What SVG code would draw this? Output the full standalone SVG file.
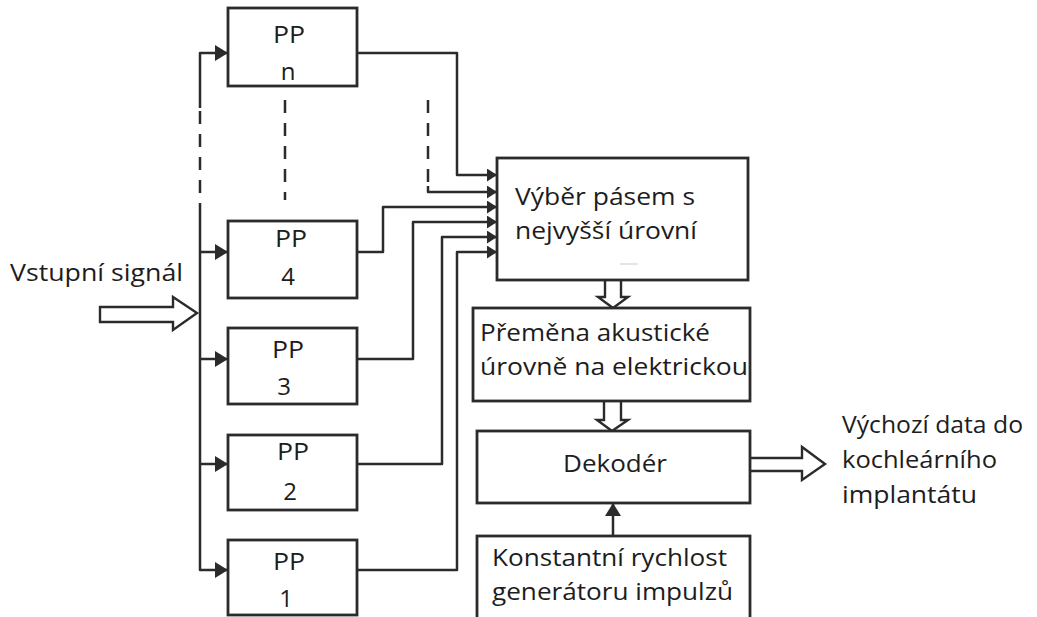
<svg xmlns="http://www.w3.org/2000/svg" width="1037" height="617" viewBox="0 0 1037 617">
  <defs>
    <style>
      .box { fill: #fff; stroke: #2b2b2b; stroke-width: 2.8; }
      .wire { fill: none; stroke: #2b2b2b; stroke-width: 2.5; stroke-linejoin: round; }
      .dash { fill: none; stroke: #2b2b2b; stroke-width: 2.5; stroke-dasharray: 13 10; }
      .hollow { fill: #fff; stroke: #2b2b2b; stroke-width: 2.4; stroke-linejoin: miter; }
      .t { font-family: "Open Sans", "Liberation Sans", sans-serif; font-size: 24px; fill: #1d1d1d; }
      .c { text-anchor: middle; }
    </style>
    <marker id="head" markerUnits="userSpaceOnUse" viewBox="0 0 13 16" refX="13" refY="8" markerWidth="13" markerHeight="16" orient="auto">
      <path d="M0,0 L13,8 L0,16 z" fill="#2b2b2b"/>
    </marker>
    <marker id="tip" markerUnits="userSpaceOnUse" viewBox="0 0 10 13" refX="10" refY="6.5" markerWidth="10" markerHeight="13" orient="auto">
      <path d="M0,0 L10,6.5 L0,13 z" fill="#2b2b2b"/>
    </marker>
  </defs>

  <!-- connectors -->
  <g id="connectors">
    <!-- input bus feeding the band-pass filters -->
    <path class="wire" d="M200,108 V53 H228" marker-end="url(#head)"/>
    <line class="dash" x1="200" y1="111" x2="200" y2="205"/>
    <path class="wire" d="M200,205 V570 H228" marker-end="url(#head)"/>
    <line class="wire" x1="200" y1="252" x2="228" y2="252" marker-end="url(#head)"/>
    <line class="wire" x1="200" y1="359" x2="228" y2="359" marker-end="url(#head)"/>
    <line class="wire" x1="200" y1="464" x2="228" y2="464" marker-end="url(#head)"/>

    <!-- ellipsis between PP n and PP 4 -->
    <line class="dash" x1="285" y1="100" x2="285" y2="200"/>

    <!-- filter outputs into band selection -->
    <path class="wire" d="M357,53 H457 V175 H497" marker-end="url(#tip)"/>
    <line class="dash" x1="428" y1="100" x2="428" y2="186"/>
    <path class="wire" d="M428,186 V192 H497" marker-end="url(#tip)"/>
    <path class="wire" d="M357,252 H383 V207 H497" marker-end="url(#tip)"/>
    <path class="wire" d="M357,359 H413 V222 H497" marker-end="url(#tip)"/>
    <path class="wire" d="M357,464 H442 V237 H497" marker-end="url(#tip)"/>
    <path class="wire" d="M357,570 H457 V252 H497" marker-end="url(#tip)"/>

    <!-- input signal arrow -->
    <path class="hollow" d="M100,307 H173 V297 L197,313 L173,330 V322 H100 z"/>

    <!-- double arrows down the processing chain -->
    <path class="hollow" d="M605,280 V297 H598 L613,308 L628,297 H621 V280"/>
    <path class="hollow" d="M604,401 V420 H597 L612,431 L628,420 H621 V401"/>

    <!-- pulse generator into decoder -->
    <line class="wire" x1="613" y1="536" x2="613" y2="503" marker-end="url(#head)"/>

    <!-- output data arrow -->
    <path class="hollow" d="M750,458 H802 V447 L825,464 L802,480 V471 H750"/>
  </g>

  <!-- band-pass filters -->
  <g id="pp-n">
    <rect class="box" x="228" y="8" width="129" height="78"/>
    <text class="t c" x="289" y="43" textLength="32" lengthAdjust="spacingAndGlyphs">PP</text>
    <text class="t c" x="288" y="80">n</text>
  </g>
  <g id="pp-4">
    <rect class="box" x="228" y="221" width="129" height="77"/>
    <text class="t c" x="291" y="247" textLength="32" lengthAdjust="spacingAndGlyphs">PP</text>
    <text class="t c" x="288" y="285">4</text>
  </g>
  <g id="pp-3">
    <rect class="box" x="228" y="328" width="129" height="76"/>
    <text class="t c" x="288" y="358" textLength="32" lengthAdjust="spacingAndGlyphs">PP</text>
    <text class="t c" x="284" y="395">3</text>
  </g>
  <g id="pp-2">
    <rect class="box" x="228" y="435" width="129" height="75"/>
    <text class="t c" x="293" y="460" textLength="32" lengthAdjust="spacingAndGlyphs">PP</text>
    <text class="t c" x="290" y="500">2</text>
  </g>
  <g id="pp-1">
    <rect class="box" x="228" y="540" width="129" height="75"/>
    <text class="t c" x="289" y="570" textLength="32" lengthAdjust="spacingAndGlyphs">PP</text>
    <text class="t c" x="286" y="607">1</text>
  </g>

  <!-- input label -->
  <g id="input">
    <text class="t" x="10" y="281" textLength="173" lengthAdjust="spacingAndGlyphs">Vstupní signál</text>
  </g>

  <!-- band selection -->
  <g id="select">
    <rect class="box" x="497" y="158" width="251" height="122"/>
    <text class="t" x="515" y="205" textLength="180" lengthAdjust="spacingAndGlyphs">Výběr pásem s</text>
    <text class="t" x="515" y="239" textLength="182" lengthAdjust="spacingAndGlyphs">nejvyšší úrovní</text>
    <line x1="620" y1="264" x2="638" y2="264" stroke="#ddd" stroke-width="1.5"/>
  </g>

  <!-- acoustic to electric conversion -->
  <g id="convert">
    <rect class="box" x="473" y="308" width="277" height="93"/>
    <text class="t" x="480" y="341" textLength="230" lengthAdjust="spacingAndGlyphs">Přeměna akustické</text>
    <text class="t" x="480" y="375" textLength="268" lengthAdjust="spacingAndGlyphs">úrovně na elektrickou</text>
  </g>

  <!-- decoder -->
  <g id="decoder">
    <rect class="box" x="477" y="431" width="273" height="72"/>
    <text class="t" x="563" y="472" textLength="104" lengthAdjust="spacingAndGlyphs">Dekodér</text>
  </g>

  <!-- pulse generator -->
  <g id="generator">
    <rect class="box" x="477" y="536" width="273" height="90"/>
    <text class="t" x="492" y="566" textLength="235" lengthAdjust="spacingAndGlyphs">Konstantní rychlost</text>
    <text class="t" x="492" y="600" textLength="241" lengthAdjust="spacingAndGlyphs">generátoru impulzů</text>
  </g>

  <!-- output label -->
  <g id="output">
    <text class="t" x="842" y="433" textLength="181" lengthAdjust="spacingAndGlyphs">Výchozí data do</text>
    <text class="t" x="842" y="468" textLength="155" lengthAdjust="spacingAndGlyphs">kochleárního</text>
    <text class="t" x="842" y="503" textLength="135" lengthAdjust="spacingAndGlyphs">implantátu</text>
  </g>
</svg>
